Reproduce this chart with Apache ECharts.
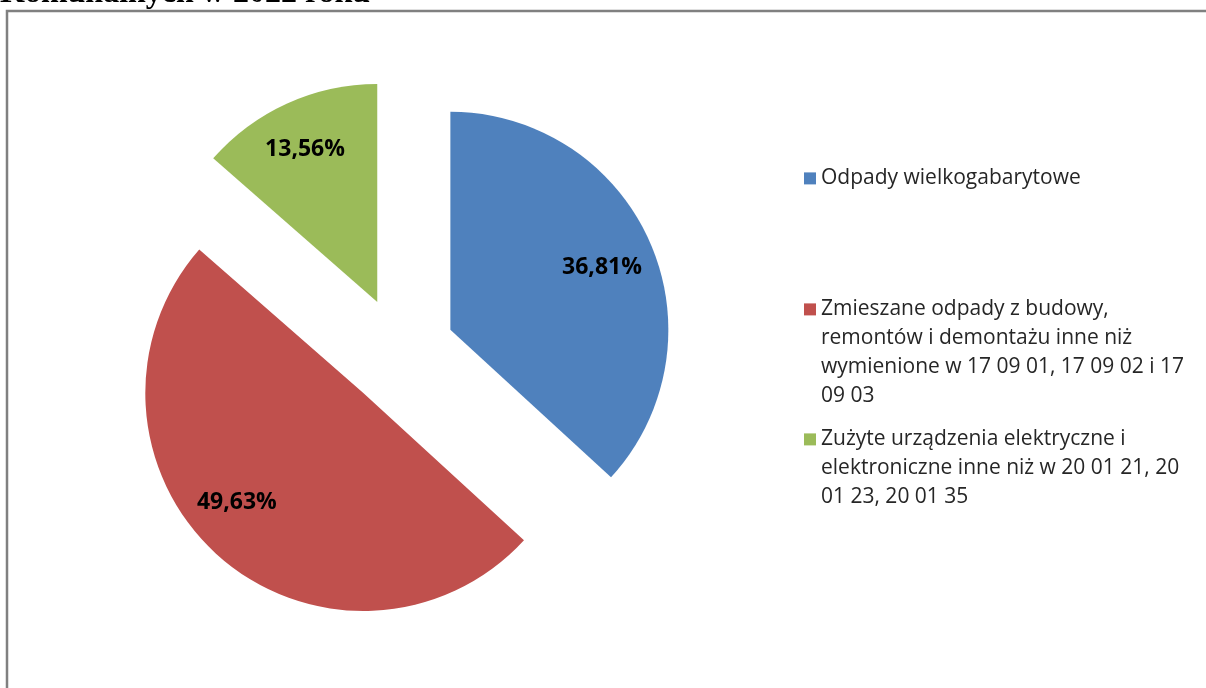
<!DOCTYPE html>
<html>
<head>
<meta charset="utf-8">
<script src="https://cdn.jsdelivr.net/npm/echarts@6/dist/echarts.min.js"></script>
<style>
html,body{margin:0;padding:0;background:#fff;}
#chart{width:1206px;height:688px;}
</style>
</head>
<body>
<div id="chart"></div>
<script>
const categories = [
  'Odpady wielkogabarytowe',
  'Zmieszane odpady z budowy, remontów i demontażu inne niż wymienione w 17 09 01, 17 09 02 i 17 09 03',
  'Zużyte urządzenia elektryczne i elektroniczne inne niż w 20 01 21, 20 01 23, 20 01 35'
];
const legendLines = [
  ['Odpady wielkogabarytowe'],
  ['Zmieszane odpady z budowy,', 'remontów i demontażu inne niż', 'wymienione w 17 09 01, 17 09 02 i 17', '09 03'],
  ['Zużyte urządzenia elektryczne i', 'elektroniczne inne niż w 20 01 21, 20', '01 23, 20 01 35']
];
const values = [36.81, 49.63, 13.56];
const colors = ['#4F81BD', '#C0504D', '#9BBB59'];
const titleText = 'Komunalnych w 2022 roku';

const LH = 28.8;
const legendTops = [164, 295, 425];
// small best-fit nudges of the percentage labels (Excel placement)
const labelNudge = [[-4, 6], [-13, -17], [-2, 2]];

const chart = echarts.init(document.getElementById('chart'), null, {renderer: 'canvas'});

const mainData = categories.map((n, i) => ({
  name: n, value: values[i], selected: true,
  itemStyle: {color: colors[i]}
}));
const labelData = categories.map((n, i) => ({
  name: n, value: values[i], selected: true,
  itemStyle: {color: 'rgba(0,0,0,0)'}
}));

function iconPath(n) {
  const H = n * LH;
  const c = LH / 2;
  return 'path://M0,0 M12,' + H + ' M0,' + (c - 6) + ' L12,' + (c - 6) + ' L12,' + (c + 6) + ' L0,' + (c + 6) + ' Z';
}

const legends = categories.map((n, i) => ({
  orient: 'vertical',
  left: 804,
  top: legendTops[i],
  padding: 0,
  itemWidth: 12,
  itemHeight: legendLines[i].length * LH,
  selectedMode: false,
  symbolKeepAspect: false,
  data: [{name: n, icon: iconPath(legendLines[i].length)}],
  formatter: () => legendLines[i].join('\n'),
  textStyle: {
    fontFamily: '"Open Sans"',
    fontSize: 21,
    lineHeight: LH,
    color: '#262626'
  }
}));

chart.setOption({
  animation: false,
  backgroundColor: '#fff',
  legend: legends,
  graphic: [
    {
      type: 'rect',
      shape: {x: 7, y: 11, width: 1400, height: 900},
      style: {fill: 'none', stroke: '#808080', lineWidth: 2.5},
      silent: true
    },
    {
      type: 'text',
      x: 0, y: -6,
      style: {
        text: titleText,
        fontFamily: '"Liberation Serif"',
        fontWeight: 'bold',
        fontSize: 32,
        fill: '#000',
        align: 'left',
        verticalAlign: 'middle'
      },
      silent: true
    }
  ],
  series: [
    {
      type: 'pie',
      center: [400, 352],
      radius: 218,
      startAngle: 90,
      clockwise: true,
      selectedMode: 'multiple',
      selectedOffset: 55,
      label: {show: false},
      labelLine: {show: false},
      emphasis: {disabled: true},
      itemStyle: {borderWidth: 0},
      data: mainData
    },
    {
      type: 'pie',
      center: [400, 352],
      radius: [116, 218],
      startAngle: 90,
      clockwise: true,
      selectedMode: 'multiple',
      selectedOffset: 55,
      silent: true,
      emphasis: {disabled: true},
      itemStyle: {borderWidth: 0},
      label: {
        show: true,
        position: 'inside',
        formatter: p => p.value.toFixed(2).replace('.', ',') + '%',
        fontFamily: '"Open Sans"',
        fontWeight: 'bold',
        fontSize: 23,
        color: '#000'
      },
      labelLayout: p => ({dx: labelNudge[p.dataIndex][0], dy: labelNudge[p.dataIndex][1]}),
      labelLine: {show: false},
      data: labelData
    }
  ]
});
</script>
</body>
</html>
